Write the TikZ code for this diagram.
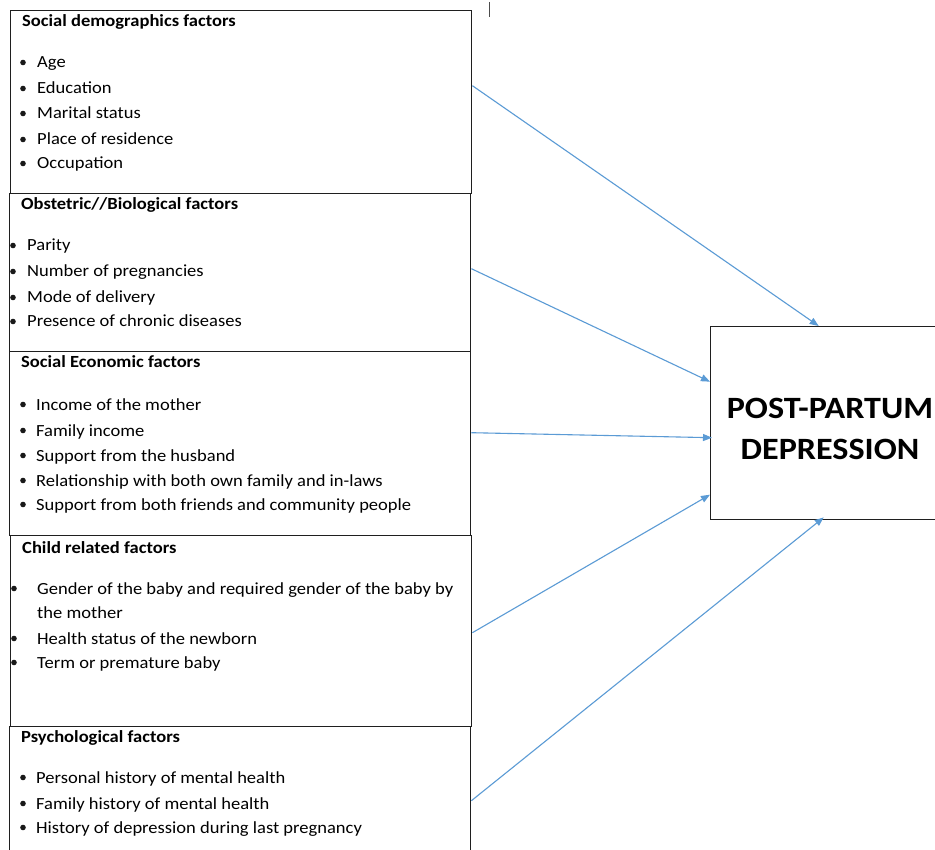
\documentclass[tikz,border=0pt]{standalone}
\usepackage{fontspec}
\usepackage{graphicx}
\setmainfont{Carlito}
\usetikzlibrary{arrows.meta}
\definecolor{arrowblue}{HTML}{5B9BD5}
\definecolor{boxline}{HTML}{1F1F1F}
\newcommand\widetxt[1]{\scalebox{1.09}[1]{#1}}
\newcommand\widebig[1]{\scalebox{1.1}[1]{#1}}
\tikzset{
  factorbox/.style={draw=boxline, line width=1.4pt, anchor=north west, inner sep=0pt},
  head/.style={anchor=base west, inner sep=0pt, font=\fontsize{17}{20}\selectfont\bfseries},
  item/.style={anchor=base west, inner sep=0pt, font=\fontsize{17}{20}\selectfont},
  bul/.style={circle, fill=black!90, inner sep=0pt, minimum size=5.6pt},
  outcome/.style={anchor=base, inner sep=0pt, font=\fontsize{31}{36}\selectfont\bfseries},
  link/.style={draw=arrowblue, line width=1.1pt, -{Triangle[length=9pt,width=7pt]}},
}
\begin{document}
\begin{tikzpicture}[x=1pt,y=-1pt]
\path[use as bounding box, clip] (0,0) rectangle (935,850);
\fill[white] (0,0) rectangle (935,850);

% boxes
\node[factorbox, minimum width=461pt, minimum height=183pt] (b1) at (10,10) {};
\node[factorbox, minimum width=461pt, minimum height=158pt] (b2) at (9,193) {};
\node[factorbox, minimum width=461pt, minimum height=184pt] (b3) at (9,351) {};
\node[factorbox, minimum width=461pt, minimum height=191pt] (b4) at (10,535) {};
\node[factorbox, minimum width=461pt, minimum height=160pt] (b5) at (9,726) {};
\node[factorbox, minimum width=240pt, minimum height=193pt] (ppd) at (710,326) {};

% stray cursor mark
\draw[line width=1pt, black!70] (489,2) -- (489,17);

% box 1
\node[head] (h1) at (22,27) {\widetxt{Social demographics factors}};
\node[bul] (p11) at (23,62.5) {}; \node[item] (t11) at (37,68) {\widetxt{Age}};
\node[bul] (p12) at (23,88.5) {}; \node[item] (t12) at (37,94) {\widetxt{Education}};
\node[bul] (p13) at (23,113.5) {}; \node[item] (t13) at (37,119) {\widetxt{Marital status}};
\node[bul] (p14) at (23,139.5) {}; \node[item] (t14) at (37,145) {\widetxt{Place of residence}};
\node[bul] (p15) at (23,163.5) {}; \node[item] (t15) at (37,169) {\widetxt{Occupation}};

% box 2
\node[head] (h2) at (21,210) {\widetxt{Obstetric//Biological factors}};
\node[bul] (p21) at (13,245.5) {}; \node[item] (t21) at (27,251) {\widetxt{Parity}};
\node[bul] (p22) at (13,271.5) {}; \node[item] (t22) at (27,277) {\widetxt{Number of pregnancies}};
\node[bul] (p23) at (13,297.5) {}; \node[item] (t23) at (27,303) {\widetxt{Mode of delivery}};
\node[bul] (p24) at (13,321.5) {}; \node[item] (t24) at (27,327) {\widetxt{Presence of chronic diseases}};

% box 3
\node[head] (h3) at (21,368) {\widetxt{Social Economic factors}};
\node[bul] (p31) at (23,404.5) {}; \node[item] (t31) at (36,410) {\widetxt{Income of the mother}};
\node[bul] (p32) at (23,430.5) {}; \node[item] (t32) at (36,436) {\widetxt{Family income}};
\node[bul] (p33) at (23,455.5) {}; \node[item] (t33) at (36,461) {\widetxt{Support from the husband}};
\node[bul] (p34) at (23,480.5) {}; \node[item] (t34) at (36,486) {\widetxt{Relationship with both own family and in-laws}};
\node[bul] (p35) at (23,504.5) {}; \node[item] (t35) at (36,510) {\widetxt{Support from both friends and community people}};

% box 4
\node[head] (h4) at (22,553) {\widetxt{Child related factors}};
\node[bul] (p41) at (14,588.5) {}; \node[item] (t41) at (37,594) {\widetxt{Gender of the baby and required gender of the baby by}};
\node[item] (t41b) at (37,618) {\widetxt{the mother}};
\node[bul] (p42) at (14,638.5) {}; \node[item] (t42) at (37,644) {\widetxt{Health status of the newborn}};
\node[bul] (p43) at (14,662.5) {}; \node[item] (t43) at (37,668) {\widetxt{Term or premature baby}};

% box 5
\node[head] (h5) at (21,742) {\widetxt{Psychological factors}};
\node[bul] (p51) at (23,777.5) {}; \node[item] (t51) at (36,783) {\widetxt{Personal history of mental health}};
\node[bul] (p52) at (23,803.5) {}; \node[item] (t52) at (36,809) {\widetxt{Family history of mental health}};
\node[bul] (p53) at (23,827.5) {}; \node[item] (t53) at (36,833) {\widetxt{History of depression during last pregnancy}};

% outcome text
\node[outcome] (o1) at (830,418) {\widebig{POST-PARTUM}};
\node[outcome] (o2) at (830,459) {\widebig{DEPRESSION}};

% connectors
\draw[link] ([yshift=16.5pt]b1.east) -- ([xshift=-12pt]ppd.north);
\draw[link] ([yshift=4pt]b2.east) -- ([yshift=41.5pt]ppd.west);
\draw[link] ([yshift=11pt]b3.east) -- ([xshift=2pt,yshift=-14.5pt]ppd.west);
\draw[link] ([yshift=-1.5pt]b4.east) -- ([yshift=-71.5pt]ppd.west);
\draw[link] ([yshift=6pt]b5.east) -- ([xshift=-7pt,yshift=3pt]ppd.south);
\end{tikzpicture}
\end{document}
